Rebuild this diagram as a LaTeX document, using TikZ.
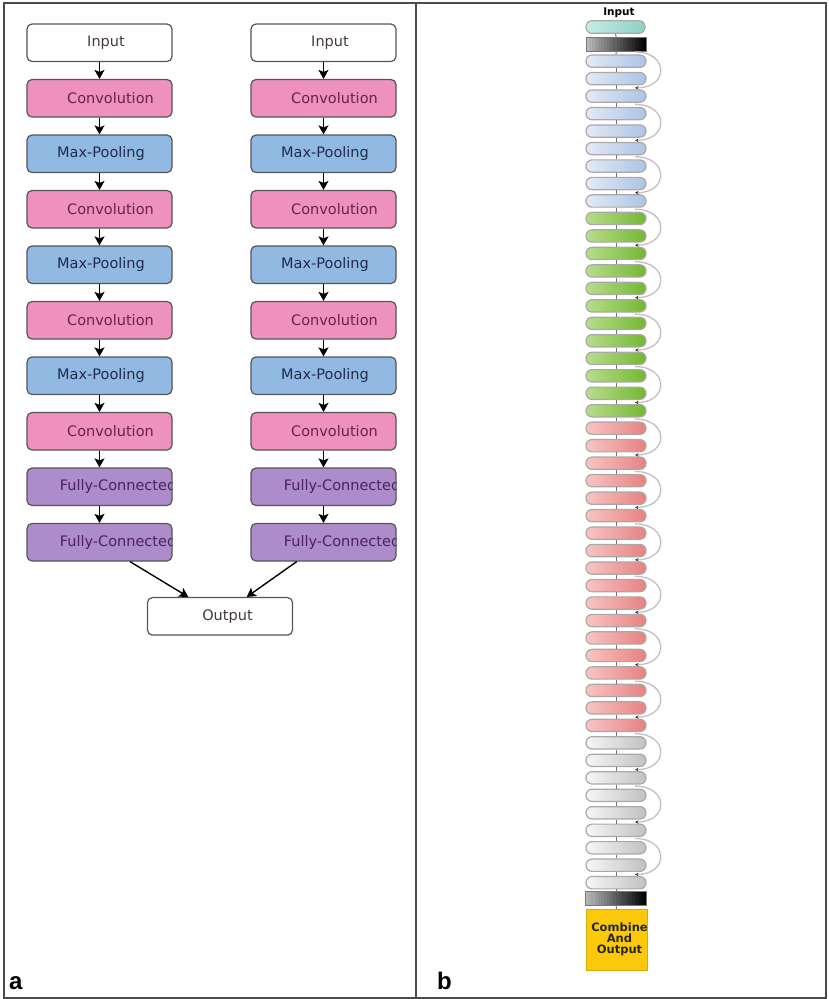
\documentclass[tikz,border=0pt]{standalone}
\usepackage{fontspec}
\setmainfont{DejaVu Sans}
\newfontfamily\panelfont{Liberation Sans}
\usetikzlibrary{arrows.meta}

% layer fills and text colours of the two-branch network
\definecolor{convfill}{RGB}{238,145,190}
\definecolor{poolfill}{RGB}{145,185,225}
\definecolor{fcfill}{RGB}{172,140,202}
\definecolor{convtext}{RGB}{105,35,70}
\definecolor{pooltext}{RGB}{28,45,78}
\definecolor{fctext}{RGB}{80,32,100}
\definecolor{iotext}{RGB}{70,58,58}
\definecolor{boxline}{RGB}{85,85,85}
% residual column colours
\definecolor{blueL}{RGB}{226,234,246}
\definecolor{blueR}{RGB}{172,196,228}
\definecolor{greenL}{RGB}{184,220,140}
\definecolor{greenR}{RGB}{116,184,52}
\definecolor{redL}{RGB}{248,196,196}
\definecolor{redR}{RGB}{232,130,130}
\definecolor{grayL}{RGB}{246,246,246}
\definecolor{grayR}{RGB}{194,194,194}
\definecolor{cyanL}{RGB}{198,236,230}
\definecolor{cyanR}{RGB}{142,208,198}
\definecolor{slabL}{RGB}{185,185,185}
\definecolor{slabR}{RGB}{0,0,0}
\definecolor{barline}{RGB}{172,168,168}
\definecolor{skipline}{RGB}{196,190,190}
\definecolor{combfill}{RGB}{252,200,10}
\definecolor{frameline}{RGB}{75,75,75}

\begin{document}
\begin{tikzpicture}[x=1pt,y=-1pt,
  layerbox/.style={draw=boxline,line width=1.2pt,rounded corners=5pt,
    minimum width=145pt,minimum height=37.5pt,inner sep=0pt},
  labeltext/.style={font=\fontsize{14.5}{17}\selectfont,inner sep=0pt},
  flow/.style={line width=1.4pt,-{Stealth[length=9pt,width=10pt,inset=2pt]}},
  % left-to-right colour ramp built from overlapping vertical strips
  ramp/.style 2 args={path picture={
    \foreach \s in {0,...,19}{
      \pgfmathtruncatemacro\pct{100-100*\s/19}
      \fill[sharp corners,draw=none,#1!\pct!#2]
        ([xshift=\s*3.1pt-0.5pt,yshift=-2pt]path picture bounding box.south west)
        rectangle ++(3.8pt,20pt);
    }}},
  bar/.style={draw=barline,line width=1.2pt,rounded corners=6pt,
    minimum width=60pt,minimum height=12.3pt,inner sep=0pt},
  slab/.style={draw=barline!70!black,line width=0.8pt,ramp={slabL}{slabR},
    minimum width=60.5pt,minimum height=13.3pt,inner sep=0pt},
  link/.style={draw=black!55,line width=0.9pt},
  skip/.style={draw=skipline,line width=1.3pt,-{Stealth[length=3.5pt,width=3.5pt,color=black!75]}},
]
\useasboundingbox (0,0) rectangle (829,999);

% frame and panel divider
\draw[frameline,line width=1.6pt] (4,3) rectangle (826,998);
\draw[frameline,line width=1.6pt] (416,3) -- (416,998);

% ---------- panel a: two parallel CNN branches ----------
\foreach \lbl/\fillc/\textc/\dx [count=\i from 0] in {
    Input/white/iotext/6.5,
    Convolution/convfill/convtext/11,
    Max-Pooling/poolfill/pooltext/1.5,
    Convolution/convfill/convtext/11,
    Max-Pooling/poolfill/pooltext/1.5,
    Convolution/convfill/convtext/11,
    Max-Pooling/poolfill/pooltext/1.5,
    Convolution/convfill/convtext/11,
    Fully-Connected/fcfill/fctext/18.5,
    Fully-Connected/fcfill/fctext/18.5}{
  \node[layerbox,fill=\fillc,path picture={
      \node[labeltext,text=\textc] at ([xshift=\dx pt]path picture bounding box.center) {\lbl};}]
    (L\i) at (99.5,{42.75+55.5*\i}) {};
  \node[layerbox,fill=\fillc,path picture={
      \node[labeltext,text=\textc] at ([xshift=\dx pt]path picture bounding box.center) {\lbl};}]
    (R\i) at (323.5,{42.75+55.5*\i}) {};
}
\node[layerbox,fill=white,path picture={
    \node[labeltext,text=iotext] at ([xshift=7.5pt]path picture bounding box.center) {Output};}]
  (out) at (220,616.3) {};

\foreach \i [evaluate=\i as \j using int(\i+1)] in {0,...,8}{
  \draw[flow] (L\i.south) -- (L\j.north);
  \draw[flow] (R\i.south) -- (R\j.north);
}
\draw[flow] ([xshift=30.5pt]L9.south) -- ([xshift=-31.7pt]out.north);
\draw[flow] ([xshift=-26.8pt]R9.south) -- ([xshift=26.7pt]out.north);

\node[font=\panelfont\bfseries\fontsize{24}{28}\selectfont,anchor=base west,inner sep=0pt] (tagA) at (9,989) {a};

% ---------- panel b: deep residual column ----------
\node[font=\bfseries\fontsize{10.5}{12}\selectfont,inner sep=0pt] (intitle) at (619,13) {Input};
\node[bar,ramp={cyanL}{cyanR},minimum width=59pt,minimum height=12.6pt] (inp) at (615.5,27) {};
\node[slab] (stem) at (616.3,44.3) {};

\foreach \k in {0,...,8}
  \node[bar,ramp={blueL}{blueR}] (b\k) at (616,{61.15+17.48*\k}) {};
\foreach \k in {9,...,20}
  \node[bar,ramp={greenL}{greenR}] (b\k) at (616,{61.15+17.48*\k}) {};
\foreach \k in {21,...,38}
  \node[bar,ramp={redL}{redR}] (b\k) at (616,{61.15+17.48*\k}) {};
\foreach \k in {39,...,47}
  \node[bar,ramp={grayL}{grayR}] (b\k) at (616,{61.15+17.48*\k}) {};

\node[slab] (pool) at (616,898.3) {};
\node[draw=combfill!85!black,line width=0.8pt,fill=combfill,minimum width=61.3pt,minimum height=60.7pt,inner sep=0pt] (comb) at (616.6,939.7) {};
\node[font=\bfseries\fontsize{11.5}{11.3}\selectfont,align=center,inner sep=0pt,text=black!85] (combtxt) at (619.5,939.5) {Combine\\And\\Output};

% short links between consecutive layers
\draw[link] (inp.south) -- (stem.north);
\draw[link] (stem.south) -- (b0.north);
\foreach \k [evaluate=\k as \j using int(\k+1)] in {0,...,46}
  \draw[link] (b\k.south) -- (b\j.north);
\draw[link] (b47.south) -- (pool.north);
\draw[link] (pool.south) -- (comb.north);

% shortcut arcs, one per three-layer block
\foreach \g [evaluate=\g as \ga using int(3*\g), evaluate=\g as \gc using int(3*\g+2)] in {0,...,15}
  \draw[skip] ([xshift=19pt,yshift=2.5pt]b\ga.north)
    .. controls ([xshift=53pt,yshift=2.5pt]b\ga.north) and ([xshift=53pt,yshift=1.5pt]b\gc.north)
    .. ([xshift=19pt,yshift=1.5pt]b\gc.north);

\node[font=\panelfont\bfseries\fontsize{24}{28}\selectfont,anchor=base west,inner sep=0pt] (tagB) at (437,989) {b};
\end{tikzpicture}
\end{document}
